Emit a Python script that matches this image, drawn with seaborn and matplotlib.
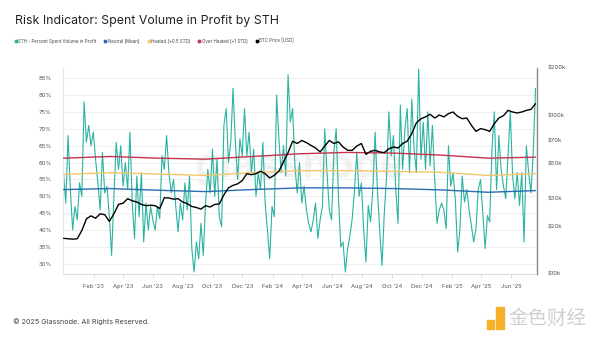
import matplotlib
matplotlib.use("Agg")
import matplotlib.pyplot as plt
import matplotlib.dates as mdates
from matplotlib.lines import Line2D
from matplotlib.patches import Rectangle
from matplotlib.ticker import FixedLocator, NullLocator
import seaborn as sns
import pandas as pd

# ---------------- data ----------------
sth_start, sth_end = "2022-12-01", "2025-07-21"

sth_pct = [
    57, 48, 68, 52, 40, 47, 43, 54, 50, 78, 66, 71, 65, 69, 61, 54, 46, 63, 51, 53,
    44, 32.5, 50, 66, 58, 65, 53, 60, 52, 69, 48, 37.5, 56, 44, 57, 36.5, 48, 40, 47, 43,
    40, 47,
    43.4, 62, 58, 68, 57, 51, 55, 47, 39.5, 48, 43, 54, 46, 56, 34.5, 27.6, 36.5, 31.5, 42, 32.5,
    48, 58, 51, 64, 50, 61, 44, 41, 71, 76, 60, 66, 82, 66, 55, 67, 62, 76, 62, 69, 57,
    64, 50, 57, 52, 66, 48, 40, 31.5, 47, 44, 80, 67, 57, 65, 56, 86, 72, 76, 59, 51,
    60, 48, 53, 46, 42, 39.5, 43, 48, 37.5, 43, 47, 70, 57, 46, 43, 63, 70, 50, 35, 36.5,
    27.6, 34.5,
    38.4, 43.4, 52, 63, 50, 54, 40, 30.5, 47.3, 42.4, 52, 69, 52, 40, 29.5, 45, 56, 75, 62, 68,
    52, 42, 77, 58, 70, 76, 57, 78.8, 64, 57, 87.7, 61, 72, 58, 75, 59, 71, 55, 42, 46, 48,
    46, 40.4, 65, 53, 57, 49, 33.5, 40, 56, 48.3, 52, 46, 41.4, 36.5, 40.4, 52, 55, 45, 34.5, 44.3,
    42.4, 64, 75, 52, 68, 58, 53, 49.3, 62, 75, 56, 49.3, 57, 47.3, 57, 36.5, 65, 57, 51, 63, 82,
]

btc_price = [
    16800, 16700, 16600, 16700, 18800, 22300, 23300, 22500, 24000, 23700, 21500, 24000, 27500, 28000,
    29900, 29000, 28500, 27500, 27000, 27200, 27000, 25900,
    30300, 30200, 29700, 29900, 28500, 27800, 26700, 26300, 25700, 27000, 26500, 27500, 27700, 31600,
    35000, 36300, 37100, 38900, 43000, 42400,
    43000, 44600, 43000, 40400, 42000, 44600, 51000, 58400, 69000, 66700, 69700, 67600, 64900, 62500,
    59000, 64300, 69700, 66700, 68300, 63400, 60400,
    60400, 64300, 66700, 57000, 59600, 60400, 59000, 58400, 61800, 63400, 62500, 66700, 69000, 77000,
    90100, 95600, 98200, 102000, 96600, 101000, 98200,
    103000, 105500, 99000, 95700, 96600, 87000, 79600, 82800, 81600, 79600, 89000, 96600, 100000,
    108000, 105500, 104000, 105500, 108000, 109500, 119000,
]

neutral_mean = [52.0, 52.3, 51.8, 51.4, 52.0, 52.5, 52.5, 52.3, 51.9, 51.2, 51.7]
heated = [56.5, 57.0, 56.6, 56.2, 57.0, 57.6, 57.6, 57.4, 57.1, 56.2, 56.7]
over_heated = [61.3, 61.8, 61.3, 61.0, 61.8, 62.6, 63.0, 62.8, 62.2, 61.3, 61.6]

pct_ticks = [30, 35, 40, 45, 50, 55, 60, 65, 70, 75, 80, 85]
price_ticks = [10000, 20000, 30000, 50000, 70000, 100000, 200000]
price_labels = ["$10k", "$20k", "$30k", "$50k", "$70k", "$100k", "$200k"]
month_ticks = pd.date_range("2023-02-01", "2025-06-01", freq="2MS")

labels = ["STH - Percent Spent Volume in Profit", "Neutral (Mean)", "Heated (+0.5 STD)",
          "Over Heated (+1 STD)", "BTC Price [USD]"]

TEAL = "#2bb3a1"
BLUE = "#2a6db0"
YELLOW = "#f4c56b"
RED = "#c4344e"

sth_dates = pd.date_range(sth_start, sth_end, periods=len(sth_pct))
btc_dates = pd.date_range(sth_start, sth_end, periods=len(btc_price))
band_dates = pd.date_range(sth_start, sth_end, periods=len(neutral_mean))

# ---------------- figure ----------------
sns.set_theme(style="white")
plt.rcParams["font.family"] = ["Inter", "DejaVu Sans"]

fig = plt.figure(figsize=(6, 3.38), dpi=100)
fig.patch.set_facecolor("white")
ax = fig.add_axes([63 / 600, 64 / 338, 474 / 600, 206 / 338])

ax.text(0.5, 0.52, "glassnode", transform=ax.transAxes, fontsize=30, color="#f2f2f2",
        ha="center", va="center", fontweight="bold", zorder=0)

sns.lineplot(x=sth_dates, y=sth_pct, ax=ax, color=TEAL, linewidth=0.8, zorder=2)
sns.lineplot(x=band_dates, y=neutral_mean, ax=ax, color=BLUE, linewidth=1.0, zorder=3)
sns.lineplot(x=band_dates, y=heated, ax=ax, color=YELLOW, linewidth=1.0, zorder=3)
sns.lineplot(x=band_dates, y=over_heated, ax=ax, color=RED, linewidth=1.0, zorder=3)

ax.set_ylim(27, 88)
ax.set_xlim(pd.Timestamp("2022-11-30"), pd.Timestamp("2025-07-24"))
ax.yaxis.set_major_locator(FixedLocator(pct_ticks))
ax.set_yticklabels([f"{v}%" for v in pct_ticks])
ax.xaxis.set_major_locator(FixedLocator(mdates.date2num(month_ticks)))
ax.xaxis.set_major_formatter(mdates.DateFormatter("%b '%y"))
ax.grid(axis="y", color="#ececec", linewidth=0.6)
ax.set_axisbelow(True)
ax.tick_params(axis="y", length=0, pad=8, labelsize=4.3, labelcolor="#555555")
ax.tick_params(axis="x", length=3, width=0.5, color="#cccccc", pad=4, labelsize=4.2,
               labelcolor="#555555", bottom=True)
ax.set_xlabel("")
ax.set_ylabel("")
for s in ["top", "right"]:
    ax.spines[s].set_visible(False)
ax.spines["left"].set_color("#d6eeee")
ax.spines["left"].set_linewidth(0.8)
ax.spines["bottom"].set_color("#dddddd")
ax.spines["bottom"].set_linewidth(0.8)

ax2 = ax.twinx()
sns.lineplot(x=btc_dates, y=btc_price, ax=ax2, color="black", linewidth=1.0)
ax2.set_yscale("log")
ax2.set_ylim(10000, 200000)
ax2.yaxis.set_major_locator(FixedLocator(price_ticks))
ax2.yaxis.set_minor_locator(NullLocator())
ax2.set_yticklabels(price_labels)
ax2.tick_params(axis="y", length=0, pad=8, labelsize=4.3, labelcolor="#555555")
ax2.set_ylabel("")
ax2.set_xlabel("")
ax2.grid(False)
for s in ["top", "left", "bottom"]:
    ax2.spines[s].set_visible(False)
ax2.spines["right"].set_color("#888888")
ax2.spines["right"].set_linewidth(1.0)

# title & legend
fig.text(15 / 600, 1 - 21 / 338, "Risk Indicator: Spent Volume in Profit by STH",
         fontsize=8.9, color="#222222", ha="left", va="center")
colors = [TEAL, BLUE, YELLOW, RED, "black"]
handles = [Line2D([], [], marker="o", linestyle="", color=c, markersize=1.8) for c in colors]
fig.legend(handles, labels, loc="center left", bbox_to_anchor=(14 / 600, 1 - 41 / 338),
           ncol=5, frameon=False, fontsize=3.2, handletextpad=0.2, columnspacing=1.6,
           borderaxespad=0, borderpad=0, handlelength=0.8, labelcolor="#444444")

# footer
fig.text(13 / 600, 1 - 322 / 338, "\u00a9 2025 Glassnode. All Rights Reserved.",
         fontsize=5.2, color="#444444", ha="left", va="center")
fig.add_artist(Rectangle((496 / 600, (338 - 329) / 338), 8 / 600, 22 / 338,
                         transform=fig.transFigure, color="#f6b12b", zorder=5))
fig.add_artist(Rectangle((487 / 600, (338 - 329) / 338), 7 / 600, 9 / 338,
                         transform=fig.transFigure, color="#f6b12b", zorder=5))
fig.text(508 / 600, 1 - 318 / 338, "金色财经", fontsize=14, color="#cfcfcf",
         ha="left", va="center", family=["Noto Sans CJK SC", "DejaVu Sans"])

fig.savefig("out.png", dpi=100, facecolor="white")
